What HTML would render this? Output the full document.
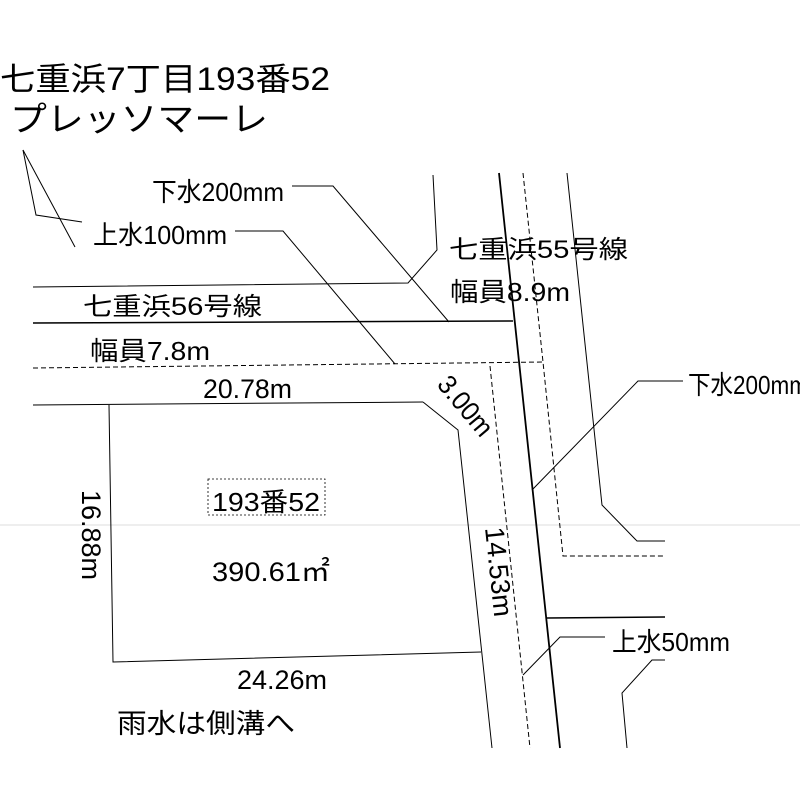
<!DOCTYPE html>
<html><head><meta charset="utf-8"><style>
html,body{margin:0;padding:0;background:#fff;}
svg{display:block;}
text{font-family:"Liberation Sans","Noto Sans CJK JP",sans-serif;fill:#000;}
</style></head><body>
<svg width="800" height="800" viewBox="0 0 800 800" xmlns="http://www.w3.org/2000/svg">
<rect width="800" height="800" fill="#fff"/>
<line x1="0" y1="525" x2="800" y2="525" stroke="#ddd" stroke-width="1"/>
<g fill="none" stroke="#000" stroke-width="1">
<polyline points="23,150 36,215 82,222"/>
<line x1="23" y1="150" x2="75" y2="247"/>
<polyline points="33,287 408,283 437,250 433,175"/>
<line x1="33" y1="323" x2="513" y2="321" stroke-width="1.5"/>
<line x1="33" y1="368" x2="543" y2="362" stroke-dasharray="5,3"/>
<line x1="33" y1="405" x2="423" y2="402"/>
<polyline points="109,405 113,662 481,652"/>
<polyline points="423,402 458,430 492,748"/>
<line x1="499" y1="173" x2="560" y2="748" stroke-width="1.8"/>
<polyline points="523,173 543,362 563,556 665,556" stroke-dasharray="5,3"/>
<line x1="490" y1="366" x2="530" y2="748" stroke-dasharray="5,3"/>
<polyline points="567,173 602,505 637,541 665,541"/>
<line x1="547" y1="618" x2="665" y2="617" stroke-width="1.5"/>
<polyline points="665,660 652,660 622,693 627,748"/>
<polyline points="292,186 333,186 449,322"/>
<polyline points="235,231 283,231 395,364"/>
<polyline points="683,381 638,381 532,490"/>
<polyline points="605,637 560,637 523,675"/>
</g>
<rect x="208" y="479" width="117" height="36" fill="none" stroke="#000" stroke-width="0.8" stroke-dasharray="2,2"/>
<text x="0" y="90" font-size="32" textLength="330" lengthAdjust="spacingAndGlyphs">七重浜7丁目193番52</text>
<text x="10" y="131" font-size="34" textLength="258" lengthAdjust="spacingAndGlyphs">プレッソマーレ</text>
<text x="152" y="201" font-size="26" textLength="132" lengthAdjust="spacingAndGlyphs">下水200mm</text>
<text x="93" y="244" font-size="26" textLength="134" lengthAdjust="spacingAndGlyphs">上水100mm</text>
<text x="83" y="315" font-size="25" textLength="179" lengthAdjust="spacingAndGlyphs">七重浜56号線</text>
<text x="90" y="360" font-size="26" textLength="120" lengthAdjust="spacingAndGlyphs">幅員7.8m</text>
<text x="203" y="398" font-size="27" textLength="89" lengthAdjust="spacingAndGlyphs">20.78m</text>
<text x="449" y="258" font-size="25" textLength="179" lengthAdjust="spacingAndGlyphs">七重浜55号線</text>
<text x="450" y="301" font-size="26" textLength="120" lengthAdjust="spacingAndGlyphs">幅員8.9m</text>
<text x="688" y="394" font-size="26" textLength="120" lengthAdjust="spacingAndGlyphs">下水200mm</text>
<text x="212" y="511" font-size="26" textLength="108" lengthAdjust="spacingAndGlyphs">193番52</text>
<text x="212" y="581" font-size="27" textLength="118" lengthAdjust="spacingAndGlyphs">390.61㎡</text>
<text x="237" y="689" font-size="27" textLength="90" lengthAdjust="spacingAndGlyphs">24.26m</text>
<text x="117" y="733" font-size="27" textLength="178" lengthAdjust="spacingAndGlyphs">雨水は側溝へ</text>
<text x="612" y="651" font-size="26" textLength="118" lengthAdjust="spacingAndGlyphs">上水50mm</text>
<text transform="translate(82,490) rotate(90)" font-size="27" textLength="90" lengthAdjust="spacingAndGlyphs">16.88m</text>
<text transform="translate(485,528) rotate(84)" font-size="27" textLength="90" lengthAdjust="spacingAndGlyphs">14.53m</text>
<text transform="translate(436,385) rotate(50)" font-size="27" textLength="70" lengthAdjust="spacingAndGlyphs">3.00m</text>
</svg>
</body></html>
